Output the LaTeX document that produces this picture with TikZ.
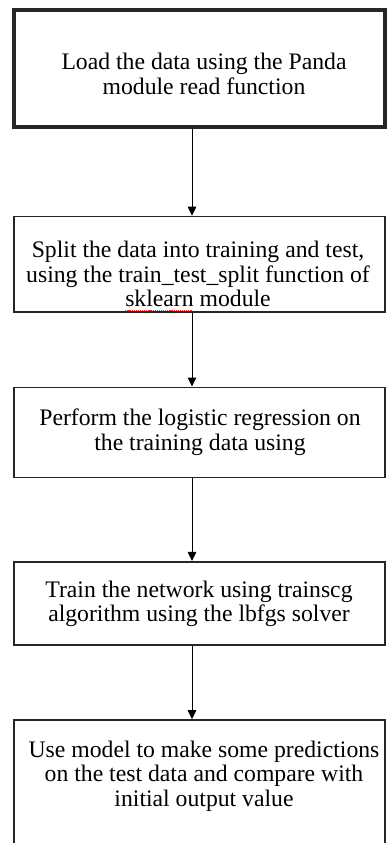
\documentclass[tikz,border=0pt]{standalone}
\usepackage{fontspec}
\setmainfont{Liberation Serif}
\usetikzlibrary{arrows.meta}
\newsavebox\spellbox
\newcommand\redspell[1]{\sbox\spellbox{#1}\rlap{\raisebox{-3.5pt}{\textcolor{red!85}{\hbox to \wd\spellbox{\leaders\hbox{\rule{1.2pt}{0.6pt}\hspace{0.9pt}}\hfill}}}}\usebox\spellbox}
\tikzset{
  box/.style={draw=black!85, line width=1.6pt, fill=white, inner sep=0pt, minimum width=371.5pt},
  firstbox/.style={box, line width=4pt},
  txt/.style={align=center, inner sep=0pt, font=\fontsize{23.7}{24.5}\selectfont, text=black},
  flow/.style={draw=black, line width=1pt, -{Triangle[length=9pt,width=8.5pt]}}
}
\begin{document}
\begin{tikzpicture}[x=1pt,y=-1pt]
\useasboundingbox (0,0) rectangle (387,843);
\node[firstbox, minimum height=116pt] (b1) at (199.5,68.5) {};
\node[box, minimum height=95.5pt] (b2) at (199.5,264.25) {};
\node[box, minimum height=90pt] (b3) at (199.5,432.3) {};
\node[box, minimum height=83.5pt] (b4) at (199.5,603.5) {};
\node[box, minimum height=134pt] (b5) at (199.5,787) {};
\node[txt] (t1) at (204,74) {Load the data using the Panda\\module read function};
\node[txt] (t2) at (198,276) {Split the data into training and test,\\using the train\_test\_split function of\\\redspell{sklearn} module};
\node[txt] (t3) at (200,432) {Perform the logistic regression on\\the training data using};
\node[txt] (t4) at (199,604) {Train the network using trainscg\\algorithm using the lbfgs solver};
\node[txt] (t5) at (204,776) {Use model to make some predictions\\on the test data and compare with\\initial output value};
\draw[flow] (b1.south -| 192,0) -- (b2.north -| 192,0);
\draw[flow] (b2.south -| 192,0) -- (b3.north -| 192,0);
\draw[flow] (b3.south -| 192,0) -- (b4.north -| 192,0);
\draw[flow] (b4.south -| 192,0) -- (b5.north -| 192,0);
\end{tikzpicture}
\end{document}
